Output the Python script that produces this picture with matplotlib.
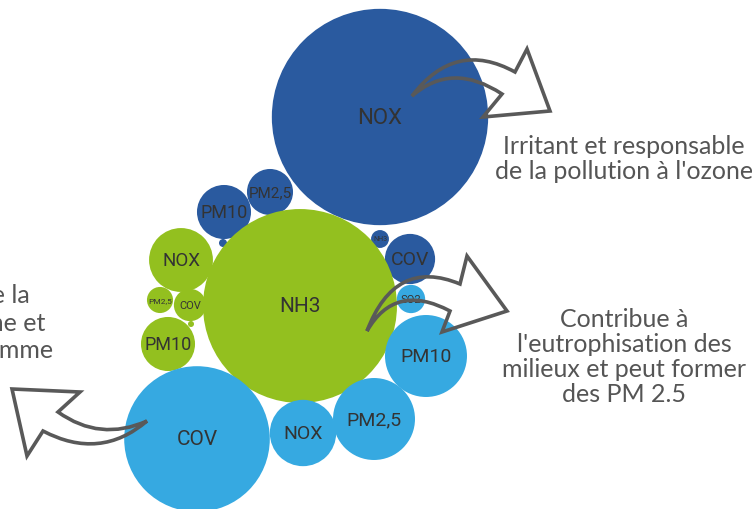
import matplotlib
matplotlib.use("Agg")
import matplotlib.pyplot as plt
import numpy as np
from matplotlib.patches import Circle, PathPatch
from matplotlib.path import Path

# ---- data: pollutant bubbles (value ~ bubble area) per group ----
groups = ["Transport", "Agriculture", "Résidentiel"]
colors = {"Transport": "#2a5a9f", "Agriculture": "#93c01f", "Résidentiel": "#36a9e1"}

transport_labels = ["NOX", "PM10", "PM2,5", "", "NH3", "COV"]
transport_values = [117.0, 7.3, 5.3, 0.16, 0.8, 6.3]

agri_labels = ["NH3", "NOX", "PM2,5", "COV", "", "PM10"]
agri_values = [94.0, 10.2, 1.7, 2.6, 0.09, 7.3]

resid_labels = ["COV", "NOX", "PM2,5", "PM10", "SO2"]
resid_values = [53.0, 11.0, 16.8, 16.8, 2.0]

# ---- layout (packed bubble centres, pixel space) ----
transport_xy = [(380, 118), (224, 213), (270, 193), (223, 244), (380, 240), (410, 260)]
agri_xy = [(300, 307), (181, 261), (160, 301), (190, 306), (191, 325), (168, 345)]
resid_xy = [(197, 440), (303, 434), (374, 420), (426, 357), (411, 300)]

transport_fs = [16, 13, 11, 0, 5, 14]
agri_fs = [15, 13.5, 6, 8, 0, 13]
resid_fs = [15, 14, 14, 14, 8]

texts_right = [
    ("Irritant et responsable\nde la pollution à l'ozone", 624, 159),
    ("Contribue à\nl'eutrophisation des\nmilieux et peut former\ndes PM 2.5", 624, 357),
]
left_lines = ["Précurseur de la", "formation d'ozone et", "de particules, comme"]

fig = plt.figure(figsize=(7.52, 5.10), dpi=100)
ax = fig.add_axes([0, 0, 1, 1])
ax.set_xlim(0, 752)
ax.set_ylim(510, 0)
ax.set_aspect("equal")
ax.axis("off")

def draw_group(labels, values, xy, fss, color):
    for lab, v, (x, y), fs in zip(labels, values, xy, fss):
        r = 10 * np.sqrt(v)
        ax.add_patch(Circle((x, y), r, facecolor=color, edgecolor="none", zorder=2))
        if lab:
            ax.text(x, y, lab, ha="center", va="center", fontsize=fs,
                    family="Roboto", color="#333333", zorder=3)

draw_group(transport_labels, transport_values, transport_xy, transport_fs, colors["Transport"])
draw_group(agri_labels, agri_values, agri_xy, agri_fs, colors["Agriculture"])
draw_group(resid_labels, resid_values, resid_xy, resid_fs, colors["Résidentiel"])

def curved_arrow(tail, c_out, notch_out, barb_out, tip, barb_in, notch_in, c_in):
    verts = [tail, c_out, notch_out, barb_out, tip, barb_in, notch_in, c_in, tail, tail]
    codes = [Path.MOVETO, Path.CURVE3, Path.CURVE3, Path.LINETO, Path.LINETO,
             Path.LINETO, Path.LINETO, Path.CURVE3, Path.CURVE3, Path.CLOSEPOLY]
    p = PathPatch(Path(verts, codes), facecolor="none", edgecolor="#595959",
                  linewidth=2.6, joinstyle="miter", zorder=5)
    ax.add_patch(p)

# top arrow
curved_arrow((412, 97), (455, 40), (515, 73), (527, 50), (550, 112), (483, 118),
             (502, 95), (452, 62))
# middle-right arrow
curved_arrow((367, 332), (395, 258), (460, 285), (467, 257), (507, 312), (442, 333),
             (450, 312), (395, 283))
# left arrow
curved_arrow((147, 422), (100, 462), (43, 432), (27, 457), (12, 390), (80, 393),
             (58, 413), (100, 443))

for txt, x, y in texts_right:
    ax.text(x, y, txt, ha="center", va="center", fontsize=18, family="Lato",
            color="#555555", linespacing=1.1, zorder=4)

for i, line in enumerate(left_lines):
    ax.text([30, 45, 53][i], 296 + 27.5 * i, line, ha="right", va="center",
            fontsize=18, family="Lato", color="#555555", zorder=4)

fig.savefig("out.png", dpi=100)
